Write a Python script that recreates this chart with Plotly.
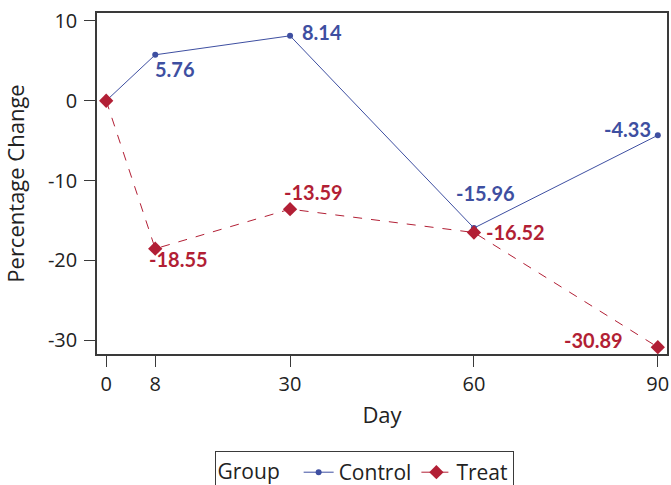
import plotly.graph_objects as go

days = [0, 8, 30, 60, 90]
control = [0, 5.76, 8.14, -15.96, -4.33]
treat = [0, -18.55, -13.59, -16.52, -30.89]
x_ticks = [0, 8, 30, 60, 90]
y_ticks = [-30, -20, -10, 0, 10]

BLUE = "#3E4FA1"
RED = "#B21F35"
FONT = "'Open Sans', 'DejaVu Sans', sans-serif"
LFONT = "Lato, 'Open Sans', sans-serif"
AX = "#3a3a3a"

fig = go.Figure()
fig.add_trace(go.Scatter(
    x=days, y=control, name="Control", mode="lines+markers",
    line=dict(color=BLUE, width=1),
    marker=dict(symbol="circle", size=6, color=BLUE),
))
fig.add_trace(go.Scatter(
    x=days, y=treat, name="Treat", mode="lines+markers",
    line=dict(color=RED, width=1, dash="dash"),
    marker=dict(symbol="diamond", size=11, color=RED),
))

# label placement styles (per point, skipping day 0)
ctrl_pos = [None, ("left", "top", -2, 0), ("left", "middle", 10, 4),
            ("center", "bottom", 12, 21), ("right", "middle", -5, 6)]
treat_pos = [None, ("left", "top", -8, 4), ("left", "bottom", -8, 3),
             ("left", "middle", 10, 1), ("right", "middle", -33, 7)]

for xs, ys, pos, col in [(days, control, ctrl_pos, BLUE), (days, treat, treat_pos, RED)]:
    for xv, yv, p in zip(xs, ys, pos):
        if p is None:
            continue
        xa, ya, dx, dy = p
        fig.add_annotation(
            x=xv, y=yv, text=f"{yv:.2f}", showarrow=False,
            xanchor=xa, yanchor=ya, xshift=dx, yshift=dy,
            font=dict(family=LFONT, size=20, color=col, weight="bold"),
        )

fig.update_layout(
    width=671, height=485,
    margin=dict(l=97, r=4, t=13, b=131),
    plot_bgcolor="white", paper_bgcolor="white",
    font=dict(family=FONT, size=20, color="#222"),
    legend=dict(
        orientation="h", xref="container", yref="container",
        x=0.5425, xanchor="center", y=0.07, yanchor="top",
        title=dict(text="Group  ", side="left", font=dict(size=21)),
        bordercolor=AX, borderwidth=1, font=dict(size=21),
        tracegroupgap=0,
    ),
    showlegend=True,
)
fig.update_xaxes(
    range=[-1.5, 91.5], tickvals=x_ticks, ticktext=[str(v) for v in x_ticks],
    showgrid=False, zeroline=False, showline=True, linecolor=AX, linewidth=1.5,
    mirror=True, ticks="outside", ticklen=11, tickcolor=AX,
    ticklabelstandoff=0, automargin=False,
    title=dict(text="Day", standoff=12, font=dict(size=22)),
)
fig.update_yaxes(
    range=[-31.75, 11], tickvals=y_ticks, ticktext=[str(v) for v in y_ticks],
    showgrid=False, zeroline=False, showline=True, linecolor=AX, linewidth=1.5,
    mirror=True, ticks="outside", ticklen=11, tickcolor=AX,
    ticklabelstandoff=3, automargin=False,
    title=dict(text="Percentage Change", standoff=18, font=dict(size=22)),
)

fig.write_html(
    "out.html",
    config={"displayModeBar": False},
    post_script="document.body.style.margin='0';document.body.style.overflow='hidden';",
)
